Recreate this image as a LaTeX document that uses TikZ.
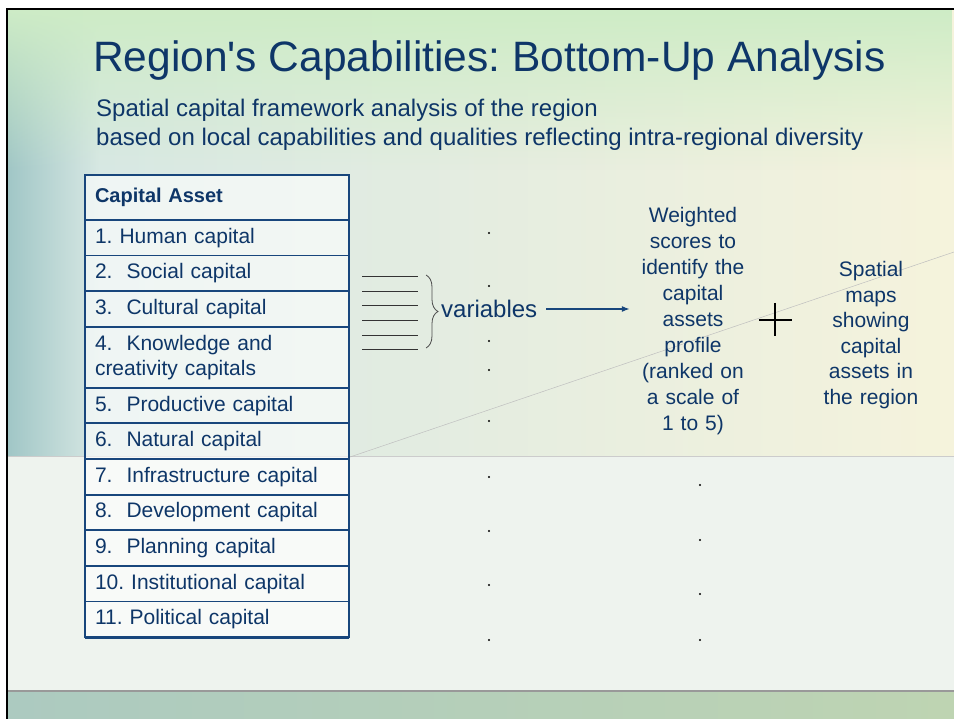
\documentclass[tikz,border=0pt]{standalone}
\usepackage{fontspec}
\setmainfont{Liberation Sans}
\usetikzlibrary{positioning,arrows.meta,decorations.pathreplacing,fadings}
\definecolor{titleblue}{RGB}{14,54,104}
\definecolor{tabline}{RGB}{24,70,124}
\definecolor{bgteal}{RGB}{160,198,198}
\definecolor{bgsoft}{RGB}{216,232,228}
\definecolor{bgmid}{RGB}{236,243,236}
\definecolor{bgcream}{RGB}{245,243,220}
\definecolor{bggreen}{RGB}{206,236,198}
\definecolor{bglow}{RGB}{238,243,238}
\definecolor{bgbandl}{RGB}{172,202,192}
\definecolor{bgbandr}{RGB}{190,212,178}

\begin{document}
\frenchspacing
\begin{tikzpicture}[x=1pt, y=-1pt,
    cell/.style={draw=tabline, line width=1.8pt, fill=white, fill opacity=0.6, text opacity=1,
        text=titleblue, minimum width=264pt, text width=244pt, align=left, inner xsep=10pt,
        inner ysep=4pt, outer sep=0pt, font=\fontsize{21}{25}\selectfont},
    blurb/.style={text=titleblue, align=center, inner sep=0pt, font=\fontsize{21}{26}\selectfont}]
    \useasboundingbox (0,0) rectangle (954,719);
    \fill[white] (0,0) rectangle (954,719);

    \shade[left color=bgteal, right color=bgsoft] (7,9) rectangle (100,457);
    \shade[left color=bgsoft, middle color=bgmid, right color=bgcream] (100,9) rectangle (954,457);
    \fill[bggreen, path fading=south] (7,9) rectangle (954,170);
    \fill[bglow] (7,457) rectangle (954,691);
    \draw[black!20, line width=1pt] (7,457) -- (954,457);
    \shade[left color=bgbandl, right color=bgbandr] (7,691) rectangle (954,719);
    \draw[black!40, line width=1.2pt] (7,691) -- (954,691);
    \draw[black!25, line width=0.5pt] (350,457) -- (954,252);
    \draw[black, line width=2.5pt] (7,719) -- (7,9) -- (954,9);

    \node[anchor=base west, inner sep=0pt, text=titleblue, font=\fontsize{42.5}{42.5}\selectfont] (title)
        at (93,72) {Region\textquotesingle s Capabilities: Bottom-Up Analysis};
    \node[anchor=north west, inner sep=0pt, align=left, text=titleblue, font=\fontsize{24}{29}\selectfont] (sub)
        at (96,98.5) {Spatial capital framework analysis of the region\\
        based on local capabilities and qualities reflecting intra-regional diversity};

    \node[cell, anchor=north west, minimum height=45pt, font=\fontsize{20}{24}\selectfont\bfseries] (r0)
        at (85,175) {Capital Asset};
    \foreach \i/\h/\txt in {1/35.6/{1. Human capital}, 2/35.6/{2.\ \ Social capital},
        3/35.6/{3.\ \ Cultural capital}, 4/61/{4.\ \ Knowledge and\\creativity capitals},
        5/35.6/{5.\ \ Productive capital}, 6/35.6/{6.\ \ Natural capital},
        7/35.6/{7.\ \ Infrastructure capital}, 8/35.6/{8.\ \ Development capital},
        9/35.6/{9.\ \ Planning capital}, 10/35.6/{10. Institutional capital},
        11/35.6/{11. Political capital}} {
        \pgfmathtruncatemacro{\j}{\i-1}
        \node[cell, minimum height=\h pt, below=0pt of r\j] (r\i) {\txt};
    }
    \draw[tabline, line width=3pt] (r11.south west) -- (r11.south east);

    \foreach \y in {277, 292, 306, 321, 336, 350} {
        \draw[black!80, line width=1pt] (362,\y) -- (418,\y);
    }
    \coordinate (bt) at (426,275);
    \coordinate (bb) at (426,348);
    \draw[decorate, decoration={brace, amplitude=12pt}, black!70, line width=0.8pt] (bt) -- (bb);

    \node[anchor=west, inner sep=0pt, text=titleblue, font=\fontsize{24}{28}\selectfont] (vars)
        at (441,309) {variables};
    \node[blurb, text width=120pt] (wtd) at (693,321)
        {Weighted\\scores to\\identify the\\capital\\assets\\profile\\(ranked on\\a scale of\\1 to 5)};
    \node[blurb, text width=100pt, font=\fontsize{21}{25.6}\selectfont] (maps) at (871,335)
        {Spatial\\maps\\showing\\capital\\assets in\\the region};
    \draw[tabline, line width=1.2pt, -{Latex[length=8pt, width=6pt]}, shorten >=3pt]
        ([xshift=9pt]vars.east) -- (vars.east -| wtd.west);

    \coordinate (plus) at (775,320);
    \draw[black, line width=1.2pt] (plus) ++(-16,0) -- ++(33,0) (plus) ++(0,-17) -- ++(0,33);

    \foreach \y in {233, 286, 341, 370, 421, 477, 531, 585, 640} {
        \fill (489,\y) circle (1.1);
    }
    \foreach \y in {485, 540, 594, 640} {
        \fill (700,\y) circle (1.1);
    }
\end{tikzpicture}
\end{document}
